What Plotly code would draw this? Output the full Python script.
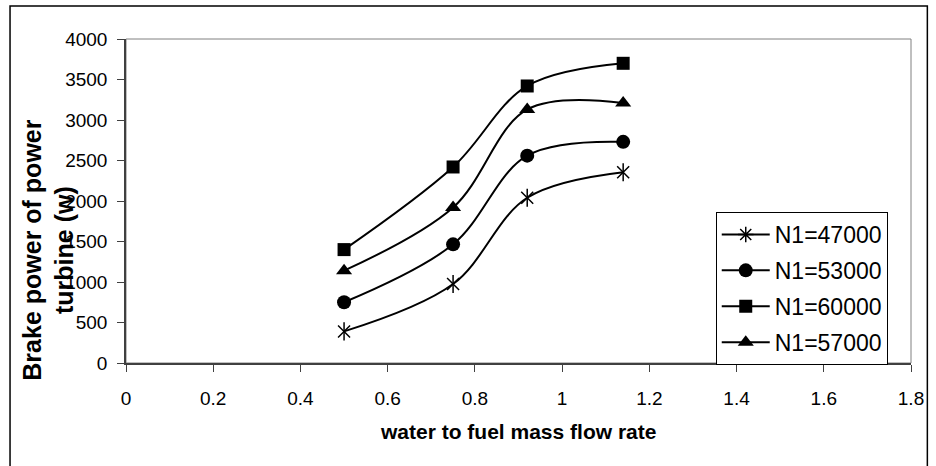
import plotly.graph_objects as go

water_ratio = [0.5, 0.75, 0.92, 1.14]
p_47000 = [390, 975, 2040, 2355]
p_53000 = [750, 1465, 2560, 2730]
p_60000 = [1400, 2420, 3420, 3700]
p_57000 = [1140, 1920, 3130, 3210]

x_ticks = [0, 0.2, 0.4, 0.6, 0.8, 1, 1.2, 1.4, 1.6, 1.8]
y_ticks = [0, 500, 1000, 1500, 2000, 2500, 3000, 3500, 4000]

FONT = "Liberation Sans, Arial, sans-serif"
W, H = 936, 466
L, R, T, B = 126, 18, 39, 103
pw, ph = W - L - R, H - T - B

def px_x(p):
    return (p - L) / pw

def px_y(p):
    return (H - B - p) / ph

line = dict(color="black", width=2, shape="spline", smoothing=1)

fig = go.Figure()

# legend entry for the star series (asterisk symbol, as in the legend)
fig.add_trace(go.Scatter(x=[None], y=[None], mode="lines+markers", name="N1=47000",
                         legendgroup="a",
                         line=dict(color="black", width=2),
                         marker=dict(symbol="asterisk-open", size=13, color="black",
                                     line=dict(color="black", width=1.5))))
# star series in the plot: X plus vertical bar
fig.add_trace(go.Scatter(x=water_ratio, y=p_47000, mode="lines+markers", showlegend=False,
                         legendgroup="a", line=line,
                         marker=dict(symbol="x-thin-open", size=12, color="black",
                                     line=dict(color="black", width=1.5))))
fig.add_trace(go.Scatter(x=water_ratio, y=p_47000, mode="markers", showlegend=False,
                         legendgroup="a",
                         marker=dict(symbol="line-ns-open", size=13, color="black",
                                     line=dict(color="black", width=1.5))))
fig.add_trace(go.Scatter(x=water_ratio, y=p_53000, mode="lines+markers", name="N1=53000",
                         legendgroup="b",
                         line=line, marker=dict(symbol="circle", size=14, color="black")))
fig.add_trace(go.Scatter(x=water_ratio, y=p_60000, mode="lines+markers", name="N1=60000",
                         legendgroup="c",
                         line=line, marker=dict(symbol="square", size=13, color="black")))
fig.add_trace(go.Scatter(x=water_ratio, y=p_57000, mode="lines+markers", name="N1=57000",
                         legendgroup="d",
                         line=line, marker=dict(symbol="triangle-up", size=14, color="black")))

fig.update_layout(
    width=W, height=H,
    margin=dict(l=L, r=R, t=T, b=B),
    paper_bgcolor="white", plot_bgcolor="white",
    font=dict(family=FONT, color="black", size=19),
    showlegend=True,
    legend=dict(x=px_x(721), y=px_y(212), xanchor="left", yanchor="top",
                bgcolor="white", bordercolor="black", borderwidth=1,
                font=dict(family=FONT, size=23, color="black"),
                itemwidth=48, tracegroupgap=3),
    shapes=[
        dict(type="rect", xref="paper", yref="paper", x0=0, x1=1, y0=0, y1=1,
             line=dict(color="#808080", width=1), layer="below"),
        dict(type="rect", xref="paper", yref="paper",
             x0=px_x(9), x1=px_x(934.5), y0=px_y(6), y1=px_y(480),
             line=dict(color="black", width=1.5)),
    ],
    annotations=[
        dict(text="<b>Brake power of power<br>turbine (w)</b>", textangle=-90,
             xref="paper", yref="paper", x=px_x(47), y=px_y(250),
             xanchor="center", yanchor="middle", showarrow=False,
             font=dict(family=FONT, size=25, color="black")),
        dict(text="<b>water to fuel mass flow rate</b>",
             xref="paper", yref="paper", x=px_x(521), y=px_y(431),
             xanchor="center", yanchor="middle", showarrow=False,
             font=dict(family=FONT, size=21, color="black")),
    ],
)

fig.update_xaxes(range=[0, 1.8], tickvals=x_ticks, ticktext=[f"{v:g}" for v in x_ticks],
                 showgrid=False, zeroline=False, showline=True, linecolor="#404040",
                 linewidth=1.5, ticks="outside", ticklen=7, tickcolor="#404040",
                 ticklabelstandoff=10, fixedrange=True)
fig.update_yaxes(range=[0, 4000], tickvals=y_ticks, ticktext=[str(v) for v in y_ticks],
                 showgrid=False, zeroline=False, showline=True, linecolor="#404040",
                 linewidth=1.5, ticks="outside", ticklen=7, tickcolor="#404040",
                 ticklabelstandoff=6, fixedrange=True)

fig.write_html("out.html", config={"displayModeBar": False},
               post_script="document.body.style.margin='0';document.body.style.overflow='hidden';")
